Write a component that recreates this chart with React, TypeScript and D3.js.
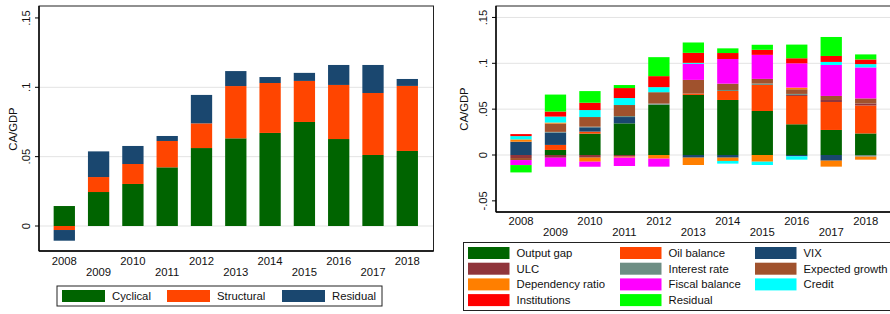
import React from "react";
import * as d3 from "d3";

const years = ["2008", "2009", "2010", "2011", "2012", "2013", "2014", "2015", "2016", "2017", "2018"];

// left panel: decomposition into cyclical / structural / residual
const cyclical = [0.0144, 0.0245, 0.0303, 0.0423, 0.0562, 0.0632, 0.0671, 0.075, 0.0627, 0.0512, 0.0541];
const structural = [-0.0029, 0.0108, 0.0144, 0.019, 0.0178, 0.0377, 0.036, 0.0296, 0.039, 0.0447, 0.0469];
const residualLeft = [-0.0077, 0.0185, 0.013, 0.0036, 0.0205, 0.0108, 0.0043, 0.0058, 0.0144, 0.0202, 0.005];

// right panel: detailed factors
const outputGap = [0, 0.0055, 0.0233, 0.0345, 0.0549, 0.0655, 0.06, 0.048, 0.0335, 0.0273, 0.0235];
const oilBalance = [0, 0.0055, 0.0022, 0, 0, 0.0015, 0.0098, 0.0284, 0.0309, 0.0305, 0.0305];
const vix = [0.0145, 0.0135, 0.0047, 0.0069, 0, -0.0029, -0.0029, 0, -0.0015, -0.0062, 0];
const ulc = [-0.0033, -0.003, -0.0029, -0.0018, 0, 0, 0, 0, 0.0011, 0.0022, 0.0022];
const interestRate = [0, 0.0007, 0.0007, 0.0011, 0.0012, 0, 0.0011, 0.0015, 0.0011, 0, -0.0018];
const expectedGrowth = [-0.0022, 0.0091, 0.0105, 0.012, 0.0124, 0.0149, 0.0069, 0.0051, 0.0051, 0.0044, 0.0055];
const dependencyRatio = [0.0025, 0.0011, -0.0044, -0.0011, -0.004, -0.008, -0.0036, -0.0073, 0.0018, -0.0065, -0.0033];
const fiscalBalance = [-0.0055, -0.0098, -0.0055, -0.0091, -0.0087, 0.0175, 0.0269, 0.0262, 0.0265, 0.0338, 0.0338];
const credit = [0.0036, 0.0065, 0.0076, 0.0076, 0.0055, 0.0011, -0.0029, -0.0036, -0.0036, 0.0033, 0.0036];
const institutions = [0.0022, 0.0055, 0.008, 0.0109, 0.012, 0.0109, 0.0065, 0.0055, 0.0055, 0.0065, 0.0051];
const residualRight = [-0.008, 0.0185, 0.0127, 0.0033, 0.0207, 0.0113, 0.0051, 0.0055, 0.0149, 0.0207, 0.0055];

const leftTicks = [0, 0.05, 0.1, 0.15];
const leftTickLabels = ["0", ".05", ".1", ".15"];
const rightTicks = [-0.05, 0, 0.05, 0.1, 0.15];
const rightTickLabels = ["-.05", "0", ".05", ".1", ".15"];

const leftSeries = [
  { key: "Cyclical", values: cyclical, color: "#006400" },
  { key: "Structural", values: structural, color: "#ff4500" },
  { key: "Residual", values: residualLeft, color: "#1a476f" },
];

const rightSeries = [
  { key: "Output gap", values: outputGap, color: "#006400" },
  { key: "Oil balance", values: oilBalance, color: "#ff4500" },
  { key: "VIX", values: vix, color: "#1a476f" },
  { key: "ULC", values: ulc, color: "#90353b" },
  { key: "Interest rate", values: interestRate, color: "#6e8e84" },
  { key: "Expected growth", values: expectedGrowth, color: "#a0522d" },
  { key: "Dependency ratio", values: dependencyRatio, color: "#ff7f00" },
  { key: "Fiscal balance", values: fiscalBalance, color: "#ff00ff" },
  { key: "Credit", values: credit, color: "#00ffff" },
  { key: "Institutions", values: institutions, color: "#ff0000" },
  { key: "Residual", values: residualRight, color: "#00ff00" },
];

const FONT = "'Liberation Sans', Arial, sans-serif";
const FS = 11.3;

type Serie = { key: string; values: number[]; color: string };

function Panel(props: {
  series: Serie[];
  frame: { x0: number; x1: number; y0: number; y1: number };
  xRange: [number, number];
  yZero: number;
  yTen: number;
  ticks: number[];
  tickLabels: string[];
  grid: number[];
  tickLabelX: number;
  titleX: number;
  titleY: number;
  evenY: number;
  oddY: number;
}) {
  const { series, frame } = props;
  const x = d3.scalePoint<string>().domain(years).range(props.xRange);
  const y = d3.scaleLinear().domain([0, 0.1]).range([props.yZero, props.yTen]);
  const barW = 21.3;

  const table = years.map((yr, i) => {
    const row: Record<string, any> = { year: yr };
    series.forEach((s) => (row[s.key] = s.values[i]));
    return row;
  });
  const stacked = d3
    .stack<Record<string, any>>()
    .keys(series.map((s) => s.key))
    .offset(d3.stackOffsetDiverging)(table);

  return (
    <g>
      {props.grid.map((t) => (
        <line key={"g" + t} x1={frame.x0} x2={frame.x1} y1={y(t)} y2={y(t)} stroke="#e3e3e3" strokeWidth={1} />
      ))}
      {stacked.map((layer, li) => (
        <g key={layer.key} fill={series[li].color}>
          {layer.map((d, i) => {
            const top = y(Math.max(d[0], d[1]));
            const h = Math.abs(y(d[0]) - y(d[1]));
            if (h < 0.01) return null;
            return <rect key={i} x={(x(years[i]) as number) - barW / 2} y={top} width={barW} height={h} />;
          })}
        </g>
      ))}
      <rect x={frame.x0} y={frame.y0} width={frame.x1 - frame.x0} height={frame.y1 - frame.y0} fill="none" stroke="#222" strokeWidth={1} />
      <line x1={frame.x0} x2={frame.x0} y1={frame.y0} y2={frame.y1} stroke="#000" strokeWidth={1.4} />
      <line x1={frame.x0} x2={frame.x1} y1={frame.y1} y2={frame.y1} stroke="#000" strokeWidth={1.6} />
      {props.ticks.map((t, i) => (
        <g key={"t" + t}>
          <line x1={frame.x0 - 4} x2={frame.x0} y1={y(t)} y2={y(t)} stroke="#000" strokeWidth={1} />
          <text
            transform={`translate(${props.tickLabelX},${y(t)}) rotate(-90)`}
            textAnchor="middle"
            fontFamily={FONT}
            fontSize={FS}
            fill="#111"
          >
            {props.tickLabels[i]}
          </text>
        </g>
      ))}
      <text
        transform={`translate(${props.titleX},${props.titleY}) rotate(-90)`}
        textAnchor="middle"
        fontFamily={FONT}
        fontSize={FS}
        fill="#111"
      >
        CA/GDP
      </text>
      {years.map((yr, i) => (
        <text
          key={yr}
          x={x(yr)}
          y={i % 2 === 0 ? props.evenY : props.oddY}
          textAnchor="middle"
          fontFamily={FONT}
          fontSize={FS}
          fill="#111"
        >
          {yr}
        </text>
      ))}
    </g>
  );
}

export default function App() {
  const leftLegendX = [62, 167, 282];
  const rightColSwatch = [468, 620, 755];
  const rightRowY = [247, 262.7, 278.4, 294.1];

  return (
    <div style={{ position: "fixed", left: 0, top: 0 }}>
      <svg width={890} height={314} style={{ display: "block", background: "#fff" }}>
        <Panel
          series={leftSeries}
          frame={{ x0: 39, x1: 433.5, y0: 6, y1: 251 }}
          xRange={[64.3, 407.3]}
          yZero={226}
          yTen={87.3}
          ticks={leftTicks}
          tickLabels={leftTickLabels}
          grid={[0, 0.05, 0.1]}
          tickLabelX={29.5}
          titleX={16.7}
          titleY={129}
          evenY={265}
          oddY={276}
        />
        <Panel
          series={rightSeries}
          frame={{ x0: 496, x1: 900, y0: 6, y1: 212 }}
          xRange={[521, 865.7]}
          yZero={155}
          yTen={63.3}
          ticks={rightTicks}
          tickLabels={rightTickLabels}
          grid={[0, 0.05, 0.1, 0.15]}
          tickLabelX={486.5}
          titleX={468}
          titleY={109}
          evenY={225}
          oddY={236}
        />
        {/* left legend */}
        <rect x={57} y={286} width={325} height={20} fill="#fff" stroke="#222" strokeWidth={1} />
        {leftSeries.map((s, i) => (
          <g key={s.key}>
            <rect x={leftLegendX[i]} y={290} width={43} height={12} fill={s.color} />
            <text x={leftLegendX[i] + 50} y={300} fontFamily={FONT} fontSize={FS} fill="#111">
              {s.key}
            </text>
          </g>
        ))}
        {/* right legend */}
        <rect x={463.5} y={242.5} width={440} height={68} fill="#fff" stroke="#222" strokeWidth={1} />
        {rightSeries.map((s, i) => {
          const col = i % 3;
          const row = Math.floor(i / 3);
          return (
            <g key={s.key}>
              <rect x={rightColSwatch[col]} y={rightRowY[row]} width={41.5} height={12} fill={s.color} />
              <text x={rightColSwatch[col] + 48.5} y={rightRowY[row] + 10} fontFamily={FONT} fontSize={FS} fill="#111">
                {s.key}
              </text>
            </g>
          );
        })}
      </svg>
    </div>
  );
}
